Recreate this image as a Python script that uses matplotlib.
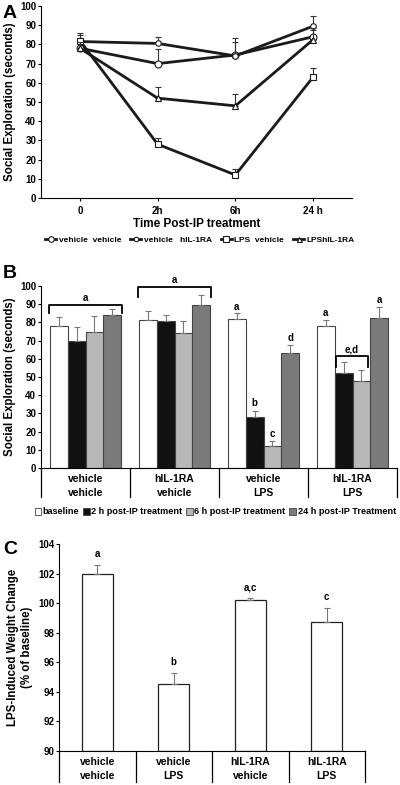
import numpy as np
import matplotlib
matplotlib.use("Agg")
import matplotlib.pyplot as plt
from matplotlib.patches import Patch

plt.rcParams['font.family'] = ['Liberation Sans', 'DejaVu Sans']
plt.rcParams['font.weight'] = 'bold'
plt.rcParams['axes.labelweight'] = 'bold'

# panel A: social exploration over time
times = ["0", "2h", "6h", "24h"]
time_labels = ["0", "2h", "6h", "24 h"]
line_names = ["vehicle  vehicle", "vehicle   hIL-1RA", "LPS  vehicle", "LPShIL-1RA"]
veh_veh = [78, 70, 74.5, 84]
veh_il = [81.5, 80.5, 74, 89.5]
lps_veh = [82, 28, 12, 63]
lps_il = [78, 52, 48, 82.5]
veh_veh_err = [5, 7.5, 9, 3.5]
veh_il_err = [4.5, 3.5, 7, 5.5]
lps_veh_err = [3, 3.5, 3, 4.5]
lps_il_err = [3.5, 6, 6, 6]

# panel B: same data as grouped bars
groups_b = ["vehicle\nvehicle", "hIL-1RA\nvehicle", "vehicle\nLPS", "hIL-1RA\nLPS"]
bar_names = ["baseline", "2 h post-IP treatment", "6 h post-IP treatment", "24 h post-IP Treatment"]
baseline = [78, 81.5, 82, 78]
h2 = [70, 80.5, 28, 52]
h6 = [74.5, 74, 12, 48]
h24 = [84, 89.5, 63, 82.5]
baseline_err = [5, 4.5, 3, 3.5]
h2_err = [7.5, 3.5, 3.5, 6]
h6_err = [9, 7, 3, 6]
h24_err = [3.5, 5.5, 4.5, 6]

# panel C: weight change
groups_c = ["vehicle\nvehicle", "vehicle\nLPS", "hIL-1RA\nvehicle", "hIL-1RA\nLPS"]
weight = [101.95, 94.55, 100.2, 98.75]
weight_err = [0.65, 0.7, 0.15, 0.9]
weight_letters = ["a", "b", "a,c", "c"]

fig = plt.figure(figsize=(4, 7.85), dpi=100)
W, H = 400, 785

def box(l, r, t, b):
    return [l / W, 1 - b / H, (r - l) / W, (b - t) / H]

tick_fs = 7
lab_fs = 8.3

# ---------- A ----------
axA = fig.add_axes(box(41, 352, 6, 198))
x = np.arange(len(times))
markers = ["o", "o", "s", "^"]
msizes = [5, 4, 5, 4.5]
series = [veh_veh, veh_il, lps_veh, lps_il]
errs = [veh_veh_err, veh_il_err, lps_veh_err, lps_il_err]
handles = []
for s, e, m, ms, name in zip(series, errs, markers, msizes, line_names):
    axA.errorbar(x, s, yerr=[np.zeros(len(e)), e], fmt="none", ecolor="#333333",
                 elinewidth=0.8, capsize=2, capthick=0.8)
    h, = axA.plot(x, s, color="#1a1a1a", lw=2, marker=m, ms=ms,
                  mfc="white", mec="#1a1a1a", mew=0.8, label=name)
    handles.append(h)
axA.set_xlim(-0.5, 3.5)
axA.set_ylim(0, 100)
axA.set_yticks(range(0, 101, 10))
axA.set_xticks(x)
axA.set_xticklabels(time_labels)
axA.set_xlabel("Time Post-IP treatment", fontsize=8.5, labelpad=2)
axA.set_ylabel("Social Exploration (seconds)", fontsize=lab_fs)
axA.yaxis.set_label_coords(-0.080, 0.5)
axA.tick_params(labelsize=tick_fs, length=2, width=0.8)
axA.tick_params(axis="x", pad=3.5)
axA.tick_params(axis="y", pad=1.5)
for sp in ["top", "right"]:
    axA.spines[sp].set_visible(False)
fig.legend(handles=handles, loc="center", bbox_to_anchor=(0.5, 1 - 240 / H), ncol=4,
           frameon=False, fontsize=6, handlelength=1.3, handletextpad=0.3,
           columnspacing=1.1, markerscale=0.8)
fig.text(3 / W, 1 - 13 / H, "A", fontsize=14, fontweight="bold", va="center")

# ---------- B ----------
axB = fig.add_axes(box(41, 397, 286, 468))
xb = np.arange(len(groups_b))
bw = 0.2
colors = ["white", "#111111", "#b8b8b8", "#7a7a7a"]
bar_vals = [baseline, h2, h6, h24]
bar_errs = [baseline_err, h2_err, h6_err, h24_err]
for i, (v, e, c) in enumerate(zip(bar_vals, bar_errs, colors)):
    axB.bar(xb + (i - 1.5) * bw, v, bw, color=c, edgecolor="#444444", lw=0.8)
    axB.errorbar(xb + (i - 1.5) * bw, v, yerr=[np.zeros(len(e)), e], fmt="none",
                 ecolor="#777777", elinewidth=0.8, capsize=2, capthick=0.8)
axB.set_xlim(-0.5, 3.5)
axB.set_ylim(0, 100)
axB.set_yticks(range(0, 101, 10))
axB.set_xticks(xb)
axB.set_xticklabels(groups_b, fontsize=7.5, linespacing=1.5)
axB.tick_params(axis="x", length=0, pad=4)
axB.tick_params(axis="y", labelsize=tick_fs, length=2, width=0.8, pad=1.5)
axB.set_ylabel("Social Exploration (seconds)", fontsize=lab_fs)
axB.yaxis.set_label_coords(-0.070, 0.5)
for sp in ["top", "right"]:
    axB.spines[sp].set_visible(False)
tb = axB.get_xaxis_transform()
for xv in np.arange(-0.5, 4, 1):
    axB.plot([xv, xv], [0, -29 / 182], transform=tb, color="black", lw=0.9, clip_on=False)


def bracket(ax, x0, x1, ytop, ybot, text, ty):
    ax.plot([x0, x0, x1, x1], [ybot, ytop, ytop, ybot], color="black", lw=1.3, clip_on=False)
    ax.text((x0 + x1) / 2, ty, text, ha="center", va="bottom", fontsize=7, clip_on=False)


bracket(axB, -0.41, 0.41, 89.6, 85, "a", 90.5)
bracket(axB, 0.59, 1.41, 99.5, 94, "a", 100.3)
bracket(axB, 3 - 0.19, 3 + 0.17, 61.5, 55.5, "e,d", 62.2)
letters_b = [(2 - 0.3, 85.8, "a"), (2 - 0.1, 33, "b"), (2 + 0.1, 16, "c"), (2 + 0.3, 68.5, "d"),
             (3 - 0.3, 82.5, "a"), (3 + 0.3, 89.5, "a")]
for xv, yv, t in letters_b:
    axB.text(xv, yv, t, ha="center", va="bottom", fontsize=7)
leg_handles = [Patch(facecolor=c, edgecolor="#444444", lw=0.6) for c in colors]
fig.legend(leg_handles, bar_names, loc="center", bbox_to_anchor=(0.538, 1 - 512 / H), ncol=4,
           frameon=False, fontsize=6.6, handlelength=0.7, handleheight=0.7,
           handletextpad=0.2, columnspacing=0.4)
fig.text(3 / W, 1 - 274 / H, "B", fontsize=14, fontweight="bold", va="center")

# ---------- C ----------
axC = fig.add_axes(box(59, 365, 544, 751))
xc = np.arange(len(groups_c))
axC.bar(xc, np.array(weight) - 90, 0.4, bottom=90, color="white", edgecolor="#222222", lw=0.9)
axC.errorbar(xc, weight, yerr=[np.zeros(len(weight_err)), weight_err], fmt="none",
             ecolor="#777777", elinewidth=0.8, capsize=2, capthick=0.8)
for xv, v, e, t in zip(xc, weight, weight_err, weight_letters):
    axC.text(xv, v + e + 0.4, t, ha="center", va="bottom", fontsize=7)
axC.set_xlim(-0.5, 3.5)
axC.set_ylim(90, 104)
axC.set_yticks(range(90, 105, 2))
axC.set_xticks(xc)
axC.set_xticklabels(groups_c, fontsize=7.5, linespacing=1.5)
axC.tick_params(axis="x", length=0, pad=4)
axC.tick_params(axis="y", labelsize=tick_fs, length=2, width=0.8, pad=1.5)
axC.set_ylabel("LPS-Induced Weight Change\n(% of baseline)", fontsize=lab_fs)
axC.yaxis.set_label_coords(-0.085, 0.5)
for sp in ["top", "right"]:
    axC.spines[sp].set_visible(False)
tc = axC.get_xaxis_transform()
for xv in np.arange(-0.5, 4, 1):
    axC.plot([xv, xv], [0, -31 / 207], transform=tc, color="black", lw=0.9, clip_on=False)
fig.text(3 / W, 1 - 549 / H, "C", fontsize=14, fontweight="bold", va="center")

fig.savefig("out.png", dpi=100)
